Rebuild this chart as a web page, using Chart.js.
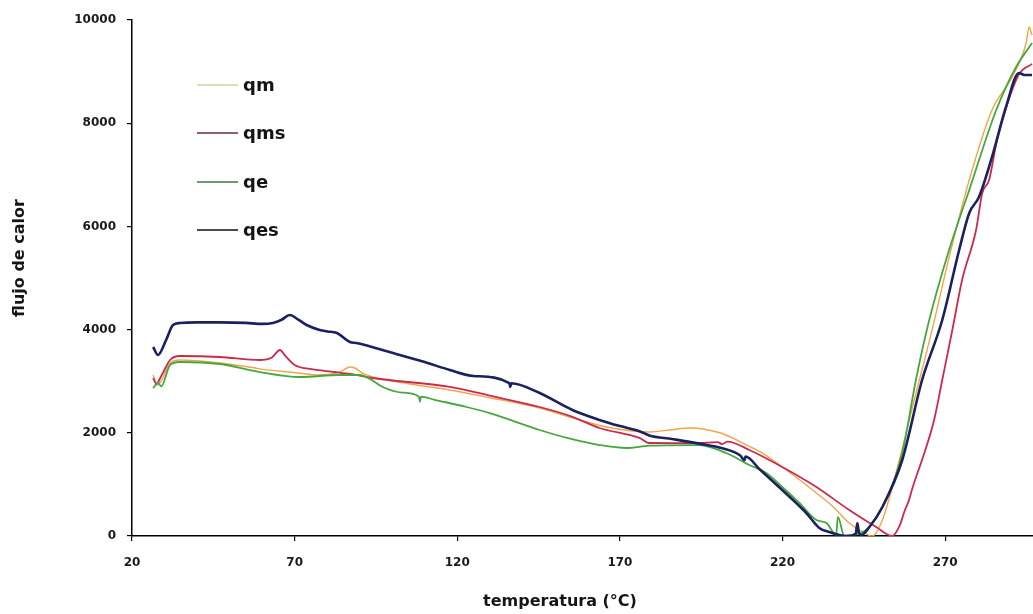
<!DOCTYPE html>
<html><head><meta charset="utf-8">
<script src="https://cdn.jsdelivr.net/npm/chart.js@4/dist/chart.umd.min.js"></script>
<style>html,body{margin:0;padding:0;background:#fff;}</style>
</head><body>
<canvas id="c" width="1033" height="614"></canvas>
<script>
const xTicks = [20,70,120,170,220,270];
const yTicks = [0,2000,4000,6000,8000,10000];
const seriesNames = ['qm','qms','qe','qes'];
const xTitle = 'temperatura (°C)';
const yTitle = 'flujo de calor';

const qmT = [26.5,27.7,29,31.7,34.7,47,57.8,60.2,68.5,77.7,83.9,87,88.5,91,94,105,117.7,130,145.3,155,165.9,179,186,191.4,196,201,204.6,209,213.8,219.9,225,230.4,235,240.5,244,247.6,250.7,255,260.5,266,271.2,277.4,284.4,290.6,294.9,295.8,296.7];
const qmV = [3120,2926,3000,3353,3411,3353,3256,3230,3178,3120,3178,3275,3256,3150,3081,2950,2830,2680,2481,2300,2112,2015,2060,2093,2070,1996,1900,1760,1608,1337,1100,833,600,252,100,0,310,1250,2636,4000,5400,6900,8256,8895,9554,9864,9709];

const qmsT = [26.5,27.5,29,31.7,34.7,47,59.3,63,65.5,67,70,74.7,82.3,87,94,117.7,130,145.3,155,163.7,176,179,186,194.4,200,201.5,203,209.8,219.9,230.4,240.5,248.8,253.7,256,257.5,258.9,259.8,264.2,266.6,269.1,272.2,275.2,279.5,281.4,283.5,286,288.7,292.7,296.7];
const qmsV = [3062,2950,3100,3411,3488,3469,3411,3460,3605,3500,3314,3237,3178,3140,3062,2888,2720,2500,2320,2093,1900,1802,1800,1802,1820,1780,1830,1667,1337,950,504,174,0,200,480,700,900,1725,2248,3023,3992,4961,5930,6647,6900,7700,8300,8950,9150];

const qeT = [26.5,28,29,31.7,34.7,47,59.3,71.6,83.9,90,93,97.1,103,108.2,108.5,108.8,113,122.9,130,145.3,155,163.7,172,179,191.4,194.4,202.7,209.8,215,219.9,225.2,230.4,233.5,236.5,237,239,243.6,245.7,250.7,256.8,261,265.1,271.2,277.4,285.7,291.8,296.7];
const qeV = [2868,2965,2900,3314,3372,3333,3178,3081,3120,3120,3050,2888,2780,2700,2600,2700,2640,2500,2380,2054,1880,1763,1705,1750,1763,1760,1608,1376,1221,950,640,310,252,20,370,0,50,116,562,1609,3023,4186,5543,6705,8256,9089,9554];

const qesT = [26.5,28,30.5,32.6,34.7,40,47,55,60,63.3,66,68.5,71,73.7,77.7,80,83,87,89,100,110,117.7,125,136,136.3,136.6,145,155.4,163.7,170,176,179,186,194.4,201.5,207,208.3,208.6,213,219.9,227.3,231.3,234.4,239.6,242.5,243,243.5,244.2,246.7,250.7,256.8,262.9,269.1,274.3,277.4,280.4,284.4,288.7,292.7,294.3,296.7];
const qesV = [3663,3508,3800,4089,4128,4140,4140,4130,4110,4128,4190,4283,4200,4089,3992,3965,3934,3760,3740,3550,3370,3217,3100,2965,2890,2960,2780,2442,2250,2130,2030,1950,1880,1790,1700,1560,1470,1540,1290,891,446,155,78,0,40,252,60,20,174,562,1473,3023,4186,5543,6260,6570,7345,8314,8973,8934,8934];

const colors = ['#f2a448','#cc2a4c','#45a83e','#1b2160'];
const legendColors = ['#dfe0b8','#8c6070','#6f9a70','#4a4a58'];
const widths = [1.4,1.8,1.8,2.6];

function pts(T,V){ return T.map((t,i)=>({x:t,y:V[i]})); }
const seriesT = [qmT,qmsT,qeT,qesT];
const seriesV = [qmV,qmsV,qeV,qesV];

const datasets = seriesNames.map((n,i)=>({
  label:n,
  data:pts(seriesT[i],seriesV[i]),
  borderColor:colors[i],
  borderWidth:widths[i],
  pointRadius:0,
  fill:false,
  cubicInterpolationMode:'monotone',
  order:3-i
}));

const overlay = {
  id:'overlay',
  afterDraw(chart){
    const ctx = chart.ctx;
    ctx.save();
    ctx.fillStyle = '#151515';
    ctx.font = 'bold 16px "DejaVu Sans"';
    ctx.textAlign = 'center';
    ctx.textBaseline = 'middle';
    ctx.fillText(xTitle, 560, 602);
    ctx.save();
    ctx.translate(20, 258);
    ctx.rotate(-Math.PI/2);
    ctx.fillText(yTitle, 0, 0);
    ctx.restore();
    const ys = [85,133,182,230];
    ctx.textAlign = 'left';
    ctx.font = 'bold 18px "DejaVu Sans"';
    seriesNames.forEach((n,i)=>{
      ctx.strokeStyle = legendColors[i];
      ctx.lineWidth = 2;
      ctx.beginPath();
      ctx.moveTo(197, ys[i]);
      ctx.lineTo(238, ys[i]);
      ctx.stroke();
      ctx.fillStyle = '#151515';
      ctx.fillText(n, 243, ys[i]+1);
    });
    ctx.restore();
  }
};

new Chart(document.getElementById('c'), {
  type:'line',
  data:{datasets},
  options:{
    responsive:false,
    animation:false,
    layout:{padding:{left:0,right:0,top:20,bottom:0}},
    plugins:{legend:{display:false},tooltip:{enabled:false},title:{display:false}},
    scales:{
      x:{
        type:'linear', min:20, max:297,
        afterBuildTicks(s){ s.ticks = xTicks.map(v=>({value:v})); },
        afterFit(s){ s.height = 78; },
        grid:{display:true, drawOnChartArea:false, drawTicks:true, tickLength:5, color:'#000', lineWidth:1.2},
        border:{display:true, color:'#000', width:1.5},
        ticks:{color:'#1a1a1a', font:{family:'DejaVu Sans', weight:'bold', size:12}, padding:15, maxRotation:0, autoSkip:false, callback:v=>String(v)}
      },
      y:{
        type:'linear', min:0, max:10000,
        afterBuildTicks(s){ s.ticks = yTicks.map(v=>({value:v})); },
        afterFit(s){ s.width = 132; },
        grid:{display:true, drawOnChartArea:false, drawTicks:true, tickLength:5, color:'#000', lineWidth:1.2},
        border:{display:true, color:'#000', width:1.5},
        ticks:{color:'#1a1a1a', font:{family:'DejaVu Sans', weight:'bold', size:12}, padding:11, autoSkip:false, callback:v=>String(v)}
      }
    }
  },
  plugins:[overlay]
});
</script>
</body></html>
